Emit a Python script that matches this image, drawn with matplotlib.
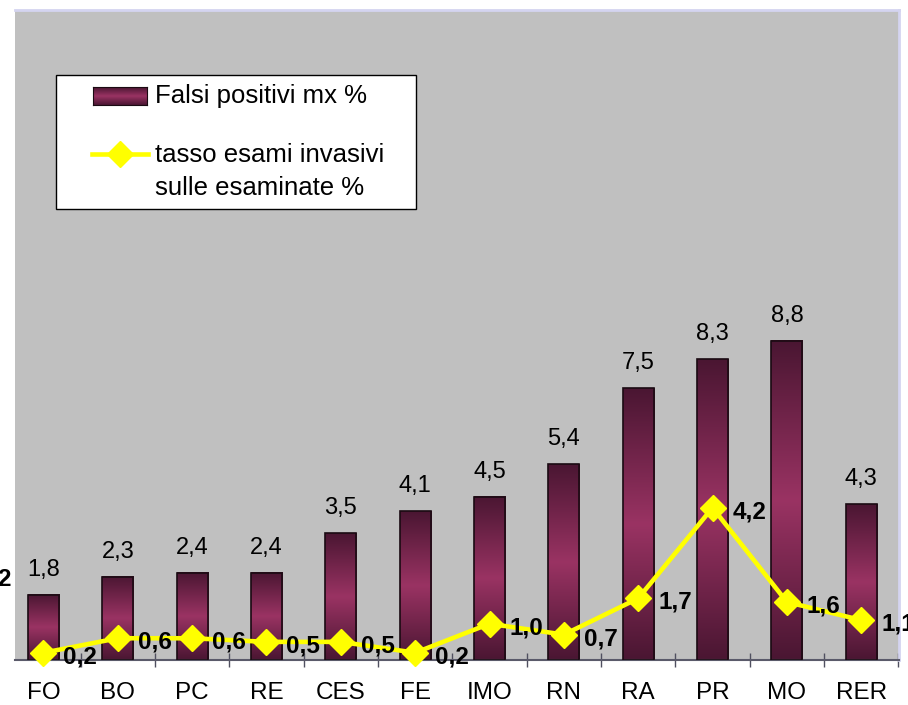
import matplotlib.pyplot as plt
import numpy as np
from matplotlib.colors import LinearSegmentedColormap
from matplotlib.patches import Rectangle
from matplotlib.lines import Line2D

plt.rcParams['font.family'] = ['Liberation Sans', 'DejaVu Sans']

categories = ['FO', 'BO', 'PC', 'RE', 'CES', 'FE', 'IMO', 'RN', 'RA', 'PR', 'MO', 'RER']
falsi_positivi = [1.8, 2.3, 2.4, 2.4, 3.5, 4.1, 4.5, 5.4, 7.5, 8.3, 8.8, 4.3]
tasso_invasivi = [0.2, 0.6, 0.6, 0.5, 0.5, 0.2, 1.0, 0.7, 1.7, 4.2, 1.6, 1.1]

W, H = 908, 705
fig = plt.figure(figsize=(W/100, H/100), dpi=100)
ax = fig.add_axes([15/W, 45/H, 884/W, 650/H])
ax.set_facecolor('#c0c0c0')

# bars with a vertical dark-light-dark gradient
cmap = LinearSegmentedColormap.from_list('bar', ['#4a1632', '#9a3363', '#4a1632'])
grad = np.linspace(0, 1, 256).reshape(-1, 1)
w = 0.417
for i, v in enumerate(falsi_positivi):
    ax.imshow(grad, extent=(i - w/2, i + w/2, 0, v), aspect='auto', cmap=cmap,
              origin='lower', zorder=2, interpolation='bilinear')
    ax.add_patch(Rectangle((i - w/2, 0), w, v, fill=False, ec='#1a0a12', lw=1.2, zorder=3))
    ax.annotate(f'{v:.1f}'.replace('.', ','), (i, v), xytext=(0, 14), textcoords='offset pixels',
                ha='center', va='bottom', fontsize=17)

x = np.arange(len(categories))
ax.plot(x, tasso_invasivi, color='#ffff00', lw=3.3, marker='D', ms=13, zorder=4, clip_on=False)
for i, v in enumerate(tasso_invasivi):
    ax.annotate(f'{v:.1f}'.replace('.', ','), (i, v), xytext=(20, -4), textcoords='offset pixels',
                ha='left', va='center', fontsize=17.5, fontweight='bold', zorder=5,
                annotation_clip=False)

# cut-off label at the left edge
fig.text(11/W, 1 - 580/H, '2', ha='right', va='center', fontsize=17.5, fontweight='bold')

ax.set_xlim(-0.383, 11.508)
ax.set_ylim(0, 17.93)
ax.set_yticks([])
ax.set_xticks(x)
ax.set_xticklabels(categories, fontsize=17.5)
ax.tick_params(axis='x', which='major', length=0, pad=16)
ax.set_xticks(np.arange(0.5, 12, 1), minor=True)
ax.tick_params(axis='x', which='minor', length=10, width=1, color='#505060', direction='inout')

ax.spines['left'].set_visible(False)
ax.spines['bottom'].set_color('#5a5a6a')
ax.spines['bottom'].set_linewidth(1.5)
for s in ('top', 'right'):
    ax.spines[s].set_color('#d4d4f0')
    ax.spines[s].set_linewidth(2)

# legend box
fig.add_artist(Rectangle((56/W, 1 - 209/H), 360/W, 134/H, transform=fig.transFigure,
                         fc='white', ec='black', lw=1, zorder=6))
sw = fig.add_axes([93/W, 1 - 105/H, 54/W, 18/H], zorder=7)
sw.imshow(grad, aspect='auto', cmap=cmap, origin='lower', interpolation='bilinear')
sw.set_xticks([])
sw.set_yticks([])
for s in sw.spines.values():
    s.set_color('#1a0a12')
fig.add_artist(Line2D([92/W, 148/W], [1 - 154/H] * 2, transform=fig.transFigure,
                      color='#ffff00', lw=3.3, zorder=7))
fig.add_artist(Line2D([120/W], [1 - 154/H], transform=fig.transFigure, color='#ffff00',
                      marker='D', ms=13, zorder=7))
fig.text(155/W, 1 - 96/H, 'Falsi positivi mx %', va='center', fontsize=18.5, zorder=8)
fig.text(155/W, 1 - 155/H, 'tasso esami invasivi', va='center', fontsize=18.5, zorder=8)
fig.text(155/W, 1 - 188/H, 'sulle esaminate %', va='center', fontsize=18.5, zorder=8)

fig.savefig('out.png', dpi=100)
